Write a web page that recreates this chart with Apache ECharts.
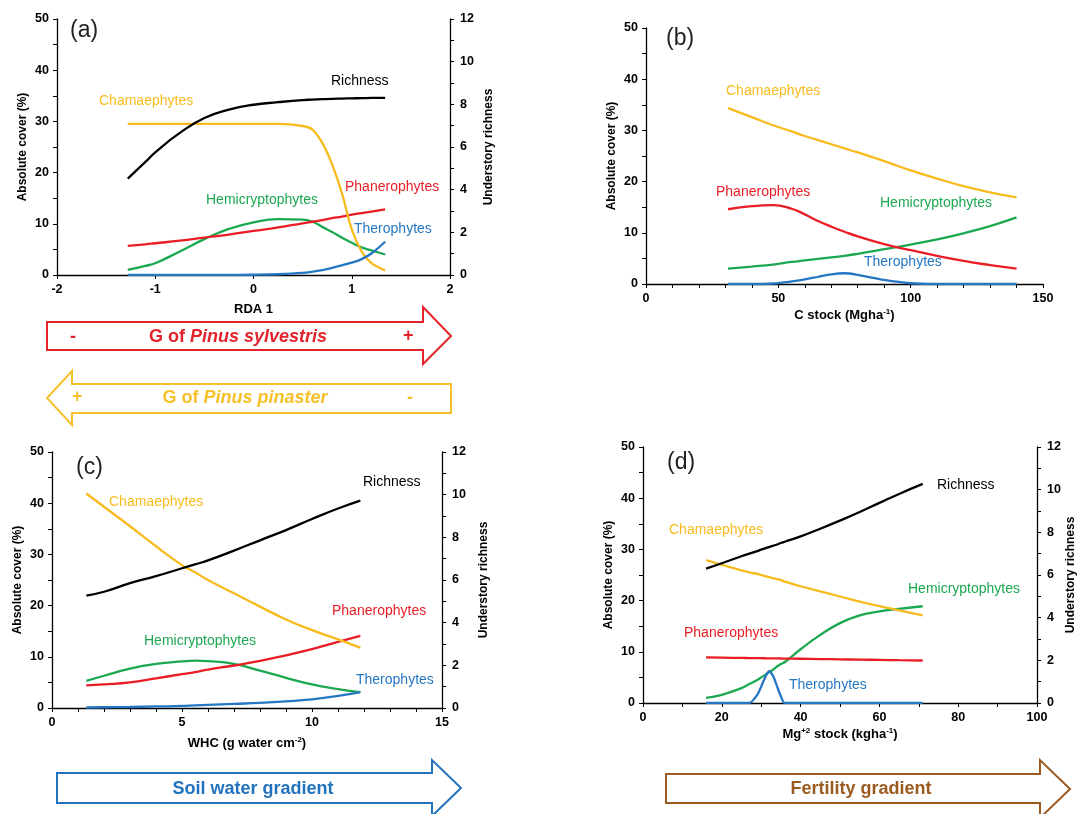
<!DOCTYPE html>
<html><head><meta charset="utf-8">
<script src="https://cdn.jsdelivr.net/npm/echarts@6/dist/echarts.min.js"></script>
<style>html,body{margin:0;padding:0;background:#fff}#c{width:1078px;height:814px}</style>
</head><body><div id="c"></div>
<script>
// ---------- DATA ----------
// Panel (a): RDA 1
var aX        = [-1.28,-1.1,-1.0,-0.75,-0.5,-0.25,0,0.25,0.5,0.6,0.7,0.8,0.9,1.0,1.1,1.2,1.34];
var aRichness = [4.52,5.3,5.75,6.66,7.36,7.75,7.98,8.1,8.2,8.22,8.24,8.26,8.27,8.28,8.29,8.3,8.3];
var aChamae   = [29.5,29.5,29.5,29.5,29.5,29.5,29.5,29.5,29.1,28.4,25.8,21.6,16.0,8.9,4.6,2.3,0.9];
var aHemi     = [1.0,1.8,2.3,4.6,7.0,9.0,10.3,10.9,10.8,10.4,9.4,8.4,7.3,6.3,5.4,4.8,4.0];
var aPhanero  = [5.7,6.0,6.2,6.7,7.3,7.9,8.6,9.3,10.1,10.4,10.7,11.1,11.4,11.8,12.1,12.4,12.8];
var aThero    = [0,0,0,0,0,0,0.05,0.15,0.4,0.65,0.95,1.4,1.9,2.4,3.1,4.2,6.5];
// Panel (b): C stock
var bX        = [31,40,48,55,60,65,70,75,80,90,100,110,120,130,140];
var bChamae   = [34.35,32.6,31.0,29.8,28.9,28.1,27.3,26.5,25.7,24.0,22.2,20.6,19.1,17.9,16.9];
var bPhanero  = [14.6,15.2,15.4,14.7,13.6,12.3,11.2,10.2,9.3,7.8,6.6,5.5,4.5,3.7,3.0];
var bHemi     = [3.0,3.4,3.8,4.3,4.6,4.9,5.2,5.5,5.9,6.8,7.7,8.7,9.9,11.3,13.0];
var bThero    = [0,0,0.1,0.5,0.9,1.4,1.9,2.1,1.8,0.8,0.15,0,0,0,0];
// Panel (c): WHC
var cX        = [1.32,2,3,4,5,5.5,6,7,8,9,10,11,11.86];
var cRichness = [5.27,5.45,5.85,6.18,6.55,6.73,6.92,7.38,7.86,8.34,8.86,9.35,9.72];
var cChamae   = [41.9,39.3,35.5,31.6,27.9,26.5,25.0,22.4,19.8,17.3,15.2,13.4,11.8];
var cPhanero  = [4.4,4.6,5.0,5.8,6.6,7.0,7.5,8.3,9.2,10.3,11.5,12.9,14.1];
var cHemi     = [5.3,6.3,7.7,8.6,9.1,9.25,9.15,8.6,7.3,5.9,4.6,3.7,3.1];
var cThero    = [0.1,0.15,0.2,0.3,0.4,0.5,0.6,0.8,1.0,1.3,1.7,2.35,3.1];
// Panel (d): Mg stock
var dX        = [16,20,25,27,29,30,31,32,33,34,35,36,40,45,50,55,60,65,71];
var dRichness = [6.3,6.55,6.88,7.0,7.12,7.19,7.25,7.31,7.37,7.43,7.5,7.56,7.81,8.17,8.55,8.95,9.38,9.8,10.27];
var dChamae   = [27.9,27.0,25.9,25.5,25.2,25.0,24.8,24.6,24.4,24.2,24.0,23.7,22.8,21.8,20.8,19.8,18.9,18.1,17.1];
var dPhanero  = [8.9,8.86,8.8,8.78,8.76,8.75,8.74,8.73,8.72,8.71,8.69,8.68,8.64,8.58,8.53,8.47,8.42,8.36,8.3];
var dHemi     = [1.0,1.6,2.9,3.7,4.5,5.0,5.5,6.0,6.5,7.1,7.6,8.0,10.5,13.3,15.6,17.1,17.9,18.4,18.9];
var dThero    = [0,0,0,0,1.6,3.2,5.0,6.2,5.3,3.3,1.3,0,0,0,0,0,0,0,0];
// Tick / axis texts
var coverName = 'Absolute cover (%)';
var richName = 'Understory richness';
var seriesNames = ['Richness','Chamaephytes','Phanerophytes','Hemicryptophytes','Therophytes'];

// ---------- STYLE ----------
var FONT = '"Liberation Sans", Arial, sans-serif';
var C = {Richness:'#000000', Chamaephytes:'#f7bb1e', Phanerophytes:'#ea1d27', Hemicryptophytes:'#1ca850', Therophytes:'#2677c3'};

function zip(xs, ys){ return xs.map(function(x,i){return [x, ys[i]];}); }

var grids = [
  {left:57, top:19, width:393, height:256},
  {left:646, top:28, width:397, height:256},
  {left:52, top:452, width:390, height:256},
  {left:643, top:447, width:396, height:256}
];

function baseAxis(o){
  var a = {
    axisLine:{show:true, onZero:false, lineStyle:{color:'#000', width:1.3}},
    axisTick:{show:true, length:4, lineStyle:{color:'#000'}},
    splitLine:{show:false},
    axisLabel:{color:'#000', fontFamily:FONT, fontWeight:'bold', fontSize:12.5, margin:8},
    nameTextStyle:{color:'#000', fontFamily:FONT, fontWeight:'bold', fontSize:12,
      rich:{b:{fontFamily:FONT, fontWeight:'bold', fontSize:13, color:'#000', lineHeight:15},
            s:{fontFamily:FONT, fontWeight:'bold', fontSize:8, color:'#000', verticalAlign:'top', lineHeight:15}}}
  };
  for (var k in o) a[k] = o[k];
  return a;
}
function every(step){ return function(v){ var r = Math.round(v*1000)/1000; return (Math.abs(r/step - Math.round(r/step)) < 1e-6) ? String(r) : ''; }; }

function xAx(gi, min, max, interval, labStep, name, gap){
  var a = baseAxis({type:'value', gridIndex:gi, min:min, max:max, interval:interval, position:'bottom',
    name:name, nameLocation:'middle', nameGap:gap});
  a.axisLabel.formatter = every(labStep);
  return a;
}
function yLeft(gi){
  var a = baseAxis({type:'value', gridIndex:gi, min:0, max:50, interval:5, position:'left',
    name:coverName, nameLocation:'middle', nameGap:28});
  a.axisLabel.formatter = every(10);
  return a;
}
function yRight(gi, gap){
  var a = baseAxis({type:'value', gridIndex:gi, min:0, max:12, interval:1, position:'right',
    name:richName, nameLocation:'middle', nameGap:gap, nameRotate:90});
  a.axisLabel.formatter = every(2);
  a.axisLabel.margin = 10;
  return a;
}

var xAxes = [
  xAx(0, -2, 2, 1, 1, '{b|RDA 1}', 27),
  xAx(1, 0, 150, 10, 50, '{b|C stock (Mgha}{s|-1}{b|)}', 24),
  xAx(2, 0, 15, 1, 5, '{b|WHC (g water cm}{s|-2}{b|)}', 28),
  xAx(3, 0, 100, 10, 20, '{b|Mg}{s|+2}{b| stock (kgha}{s|-1}{b|)}', 24)
];
var yAxes = [ yLeft(0), yRight(0, 33), yLeft(1), yLeft(2), yRight(2, 36), yLeft(3), yRight(3, 28) ];

var series = [];
function addLine(name, xi, yi, xs, ys, smooth){
  series.push({type:'line', name:name, xAxisIndex:xi, yAxisIndex:yi, data:zip(xs, ys),
    smooth: smooth===undefined ? 0.5 : smooth, showSymbol:false, symbol:'none',
    lineStyle:{color:C[name], width:2.3}, itemStyle:{color:C[name]}, z: name==='Therophytes'?3:2});
}
// (a)
addLine('Therophytes',0,0,aX,aThero,0.35);
addLine('Hemicryptophytes',0,0,aX,aHemi);
addLine('Phanerophytes',0,0,aX,aPhanero);
addLine('Chamaephytes',0,0,aX,aChamae,0.35);
addLine('Richness',0,1,aX,aRichness);
// (b)
addLine('Therophytes',1,2,bX,bThero,0.35);
addLine('Hemicryptophytes',1,2,bX,bHemi);
addLine('Phanerophytes',1,2,bX,bPhanero);
addLine('Chamaephytes',1,2,bX,bChamae);
// (c)
addLine('Therophytes',2,3,cX,cThero);
addLine('Hemicryptophytes',2,3,cX,cHemi);
addLine('Phanerophytes',2,3,cX,cPhanero);
addLine('Chamaephytes',2,3,cX,cChamae);
addLine('Richness',2,4,cX,cRichness);
// (d)
addLine('Therophytes',3,5,dX,dThero,0.25);
addLine('Hemicryptophytes',3,5,dX,dHemi);
addLine('Phanerophytes',3,5,dX,dPhanero);
addLine('Chamaephytes',3,5,dX,dChamae);
addLine('Richness',3,6,dX,dRichness);

// ---------- ANNOTATIONS ----------
function lbl(text, x, y, color, size, weight, style){
  return {type:'text', x:x, y:y, z:100, style:{text:text, fill:color, font:(style||'normal')+' '+(weight||'normal')+' '+(size||14)+'px '+FONT, textAlign:'left', textVerticalAlign:'middle'}};
}
var g = [];
// panel letters
g.push(lbl('(a)', 70, 31, '#222', 23));
g.push(lbl('(b)', 666, 39, '#222', 23));
g.push(lbl('(c)', 76, 468, '#222', 23));
g.push(lbl('(d)', 667, 463, '#222', 23));
// curve labels (a)
g.push(lbl('Richness', 331, 81, C.Richness));
g.push(lbl('Chamaephytes', 99, 101, C.Chamaephytes));
g.push(lbl('Phanerophytes', 345, 187, C.Phanerophytes));
g.push(lbl('Hemicryptophytes', 206, 200, C.Hemicryptophytes));
g.push(lbl('Therophytes', 354, 229, C.Therophytes));
// (b)
g.push(lbl('Chamaephytes', 726, 91, C.Chamaephytes));
g.push(lbl('Phanerophytes', 716, 192, C.Phanerophytes));
g.push(lbl('Hemicryptophytes', 880, 203, C.Hemicryptophytes));
g.push(lbl('Therophytes', 864, 262, C.Therophytes));
// (c)
g.push(lbl('Richness', 363, 482, C.Richness));
g.push(lbl('Chamaephytes', 109, 502, C.Chamaephytes));
g.push(lbl('Phanerophytes', 332, 611, C.Phanerophytes));
g.push(lbl('Hemicryptophytes', 144, 641, C.Hemicryptophytes));
g.push(lbl('Therophytes', 356, 680, C.Therophytes));
// (d)
g.push(lbl('Richness', 937, 485, C.Richness));
g.push(lbl('Chamaephytes', 669, 530, C.Chamaephytes));
g.push(lbl('Hemicryptophytes', 908, 589, C.Hemicryptophytes));
g.push(lbl('Phanerophytes', 684, 633, C.Phanerophytes));
g.push(lbl('Therophytes', 789, 685, C.Therophytes));

// arrows
function poly(points, color){
  return {type:'polygon', z:50, shape:{points:points}, style:{fill:'#fff', stroke:color, lineWidth:2}};
}
function richText(parts, cx, cy, color){
  return {type:'text', x:cx, y:cy, z:100, style:{text:parts, fill:color, align:'center', verticalAlign:'middle',
    textAlign:'center', textVerticalAlign:'middle',
    rich:{n:{fontFamily:FONT, fontWeight:'bold', fontSize:18, fill:color, color:color},
          i:{fontFamily:FONT, fontWeight:'bold', fontStyle:'italic', fontSize:18, fill:color, color:color}}}};
}
var RED = '#e3222b', YEL = '#f7c02a', BLU = '#2273bd', BRN = '#9b5a20';
g.push(poly([[47,322],[423,322],[423,307],[451,336],[423,364],[423,350],[47,350]], RED));
g.push(richText('{n|G of }{i|Pinus sylvestris}', 238, 337, RED));
g.push(lbl('-', 70, 337, RED, 18, 'bold'));
g.push(lbl('+', 403, 336, RED, 18, 'bold'));
g.push(poly([[47,398],[72,371],[72,384],[451,384],[451,413],[72,413],[72,425]], YEL));
g.push(richText('{n|G of }{i|Pinus pinaster}', 245, 398, YEL));
g.push(lbl('+', 72, 397, YEL, 18, 'bold'));
g.push(lbl('-', 407, 398, YEL, 18, 'bold'));
g.push(poly([[57,773],[432,773],[432,760],[461,788],[432,816],[432,803],[57,803]], BLU));
g.push(richText('{n|Soil water gradient}', 253, 789, BLU));
g.push(poly([[666,774],[1040,774],[1040,760],[1070,789],[1040,818],[1040,803],[666,803]], BRN));
g.push(richText('{n|Fertility gradient}', 861, 789, BRN));

var chart = echarts.init(document.getElementById('c'), null, {renderer:'canvas'});
chart.setOption({
  backgroundColor:'#fff',
  animation:false,
  grid:grids,
  xAxis:xAxes,
  yAxis:yAxes,
  series:series,
  graphic:g
});
</script></body></html>
